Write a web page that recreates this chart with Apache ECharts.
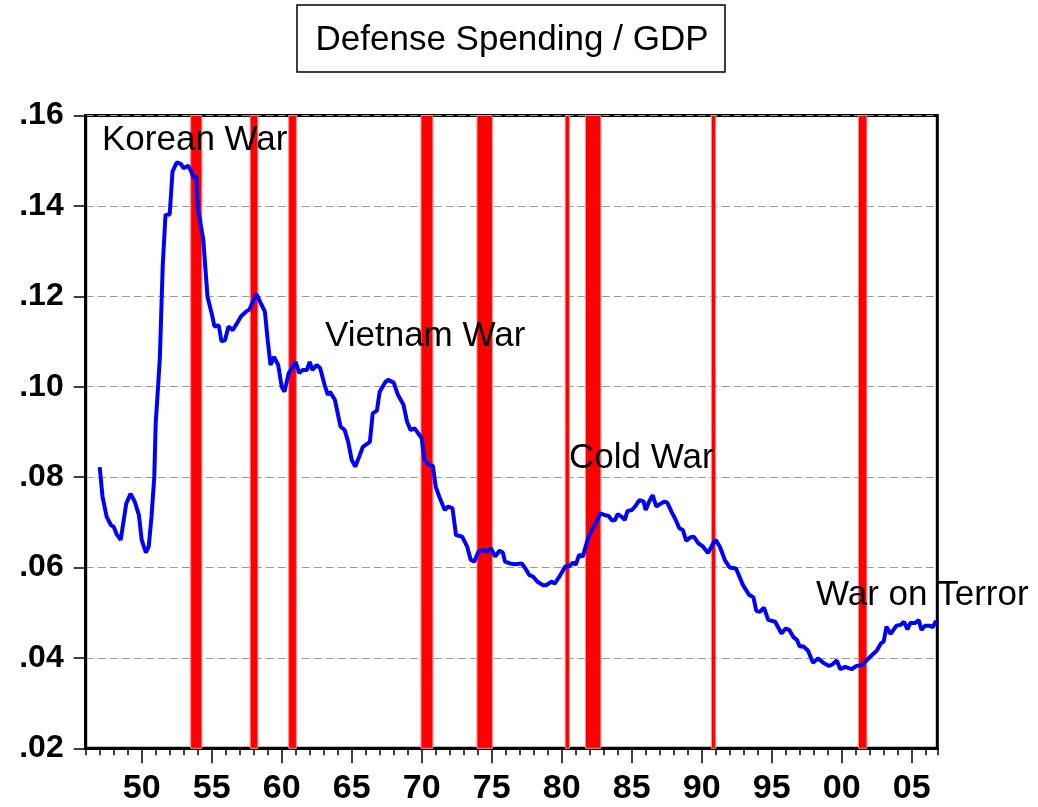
<!DOCTYPE html>
<html>
<head>
<meta charset="utf-8">
<script src="https://cdn.jsdelivr.net/npm/echarts@6/dist/echarts.min.js"></script>
<style>html,body{margin:0;padding:0;background:#fff;}#c{width:1038px;height:807px;}</style>
</head>
<body>
<div id="c"></div>
<script>
const years = [1947.0,1947.2,1947.5,1947.8,1948.0,1948.2,1948.5,1948.9,1949.2,1949.5,1949.8,1950.0,1950.3,1950.5,1950.7,1950.9,1951.0,1951.2,1951.3,1951.5,1951.7,1952.0,1952.2,1952.5,1952.8,1953.0,1953.3,1953.5,1953.7,1953.9,1954.0,1954.4,1954.7,1955.0,1955.2,1955.5,1955.7,1955.95,1956.2,1956.5,1956.8,1957.1,1957.45,1957.7,1958.0,1958.2,1958.5,1958.8,1959.0,1959.2,1959.45,1959.75,1960.0,1960.2,1960.5,1960.8,1961.0,1961.25,1961.5,1961.8,1962.0,1962.2,1962.5,1962.75,1963.1,1963.3,1963.45,1963.8,1964.2,1964.5,1964.75,1965.0,1965.25,1965.5,1965.8,1966.3,1966.5,1966.8,1967.0,1967.4,1967.6,1968.0,1968.3,1968.7,1968.95,1969.2,1969.5,1970.0,1970.2,1970.5,1970.8,1971.0,1971.3,1971.65,1971.9,1972.2,1972.45,1972.9,1973.25,1973.5,1973.75,1974.05,1974.4,1974.65,1974.95,1975.25,1975.55,1975.8,1975.95,1976.3,1976.65,1977.15,1977.4,1977.7,1977.95,1978.25,1978.65,1978.9,1979.3,1979.5,1979.9,1980.25,1980.55,1980.8,1981.0,1981.25,1981.5,1981.85,1982.15,1982.45,1982.75,1983.1,1983.35,1983.6,1983.8,1984.0,1984.3,1984.5,1984.7,1985.0,1985.25,1985.55,1985.85,1986.0,1986.25,1986.5,1986.75,1987.0,1987.35,1987.55,1987.85,1988.15,1988.4,1988.65,1988.9,1989.2,1989.45,1989.75,1990.1,1990.45,1990.8,1991.0,1991.3,1991.65,1992.0,1992.45,1992.95,1993.4,1993.7,1993.9,1994.15,1994.45,1994.75,1995.25,1995.7,1996.0,1996.25,1996.55,1996.8,1997.0,1997.25,1997.6,1997.95,1998.3,1998.7,1999.1,1999.35,1999.65,1999.9,2000.25,2000.7,2001.05,2001.45,2001.8,2002.15,2002.5,2002.8,2003.0,2003.2,2003.5,2003.9,2004.2,2004.45,2004.7,2004.9,2005.25,2005.5,2005.7,2005.95,2006.3,2006.5,2006.75];
const defenseGdp = [0.0822,0.0757,0.0712,0.0694,0.0690,0.0674,0.0661,0.0742,0.0763,0.0746,0.0716,0.0661,0.0633,0.0646,0.0712,0.0801,0.0919,0.1015,0.1066,0.1266,0.1380,0.1381,0.1476,0.1496,0.1493,0.1483,0.1489,0.1479,0.1463,0.1466,0.1398,0.1325,0.1199,0.1162,0.1133,0.1136,0.1100,0.1103,0.1133,0.1125,0.1140,0.1156,0.1166,0.1171,0.1192,0.1205,0.1185,0.1166,0.1103,0.1048,0.1066,0.1048,0.1000,0.0989,0.1030,0.1044,0.1055,0.1030,0.1037,0.1037,0.1055,0.1037,0.1048,0.1041,0.1000,0.0982,0.0989,0.0971,0.0912,0.0904,0.0878,0.0838,0.0823,0.0842,0.0867,0.0878,0.0941,0.0947,0.0989,0.1010,0.1015,0.1009,0.0982,0.0960,0.0923,0.0904,0.0908,0.0886,0.0838,0.0827,0.0825,0.0779,0.0753,0.0727,0.0735,0.0731,0.0672,0.0668,0.0646,0.0617,0.0613,0.0635,0.0639,0.0635,0.0642,0.0624,0.0637,0.0633,0.0613,0.0609,0.0607,0.0609,0.0598,0.0583,0.0580,0.0569,0.0561,0.0561,0.0569,0.0564,0.0583,0.0602,0.0603,0.0611,0.0606,0.0628,0.0624,0.0661,0.0683,0.0698,0.0720,0.0716,0.0714,0.0704,0.0705,0.0718,0.0712,0.0705,0.0725,0.0727,0.0735,0.0749,0.0746,0.0727,0.0746,0.0760,0.0735,0.0740,0.0746,0.0743,0.0723,0.0705,0.0687,0.0683,0.0659,0.0667,0.0668,0.0654,0.0646,0.0632,0.0652,0.0661,0.0646,0.0617,0.0600,0.0598,0.0561,0.0539,0.0534,0.0504,0.0502,0.0511,0.0484,0.0480,0.0454,0.0465,0.0462,0.0446,0.0440,0.0425,0.0426,0.0416,0.0389,0.0399,0.0389,0.0382,0.0386,0.0394,0.0375,0.0380,0.0375,0.0382,0.0384,0.0395,0.0406,0.0416,0.0432,0.0436,0.0469,0.0453,0.0471,0.0473,0.0480,0.0463,0.0477,0.0477,0.0484,0.0462,0.0471,0.0471,0.0468,0.0482];
const recessionStart = [1953.5,1957.75,1960.5,1969.95,1973.95,1980.25,1981.7,1990.7,2001.2];
const recessionEnd   = [1954.3,1958.3,1961.05,1970.8,1975.05,1980.55,1982.8,1991.0,2001.8];
const xLabelYears = [1950,1955,1960,1965,1970,1975,1980,1985,1990,1995,2000,2005];
const warLabels = ['Korean War','Vietnam War','Cold War','War on Terror'];
const chartTitle = 'Defense Spending / GDP';

const FONT = '"Liberation Sans", Arial, sans-serif';
const chart = echarts.init(document.getElementById('c'), null, {renderer:'canvas'});

const lineData = years.map((y,i)=>[y, defenseGdp[i]]);
const bands = recessionStart.map((s,i)=>[{xAxis:s},{xAxis:recessionEnd[i]}]);

const gridLeft = 85.7, gridRight = 100.7, gridTop = 115.5, gridBottom = 58.7;
const xMin = 1946, xMax = 2006.83;

const option = {
  animation: false,
  backgroundColor: '#ffffff',
  grid: {left:gridLeft, right:gridRight, top:gridTop, bottom:gridBottom, show:true, borderColor:'#000', borderWidth:3, backgroundColor:'transparent'},
  xAxis: [
    {type:'value', min:xMin, max:xMax, interval:1, position:'bottom',
     axisLine:{show:true, lineStyle:{color:'#000', width:3}},
     axisTick:{show:true, length:7, lineStyle:{color:'#000', width:1.5}},
     axisLabel:{show:false}, splitLine:{show:false}},
    {type:'value', min:xMin, max:xMax, position:'bottom',
     axisLine:{show:false},
     axisTick:{show:true, length:15, customValues:xLabelYears, lineStyle:{color:'#000', width:1.5}},
     axisLabel:{show:true, customValues:xLabelYears, margin:23, fontFamily:FONT, fontWeight:'bold', fontSize:34, color:'#000',
       formatter:(v)=>String(Math.round(v)%100).padStart(2,'0')},
     splitLine:{show:false}}
  ],
  yAxis: {type:'value', min:0.02, max:0.16, interval:0.02,
    axisLine:{show:true, lineStyle:{color:'#000', width:3}},
    axisTick:{show:true, length:12, lineStyle:{color:'#000', width:1.5}},
    axisLabel:{margin:22, fontFamily:FONT, fontWeight:'bold', fontSize:32, color:'#000',
      formatter:(v)=>v.toFixed(2).replace(/^0/,'')},
    splitLine:{show:true, lineStyle:{color:'#9a9a9a', width:1, type:[8,4]}}
  },
  series: [
    {type:'line', name:'bands', data:[], z:1, silent:true,
     markArea:{silent:true, itemStyle:{color:'#ff0000', opacity:1, borderColor:'#ff8a8a', borderWidth:1}, data:bands}},
    {type:'line', name:'Defense/GDP', data:lineData, z:5, showSymbol:false, symbol:'none',
     lineStyle:{color:'#0000ff', width:4}, itemStyle:{color:'#0000ff'}}
  ],
  graphic: [
    {type:'rect', shape:{x:297, y:5, width:428, height:67}, style:{fill:'#fff', stroke:'#000', lineWidth:1.5}, z:10},
    {type:'text', x:512, y:40, style:{text:chartTitle, font:'35px '+FONT, fill:'#000', align:'center', verticalAlign:'middle'}, z:11},
    {type:'text', x:102, y:140, style:{text:warLabels[0], font:'35px '+FONT, fill:'#000', align:'left', verticalAlign:'middle'}, z:20},
    {type:'text', x:325, y:336, style:{text:warLabels[1], font:'35px '+FONT, fill:'#000', align:'left', verticalAlign:'middle'}, z:20},
    {type:'text', x:569, y:458.5, style:{text:warLabels[2], font:'35px '+FONT, fill:'#000', align:'left', verticalAlign:'middle'}, z:20},
    {type:'text', x:816, y:595, style:{text:warLabels[3], font:'35px '+FONT, fill:'#000', align:'left', verticalAlign:'middle'}, z:20}
  ]
};
chart.setOption(option);
</script>
</body>
</html>
